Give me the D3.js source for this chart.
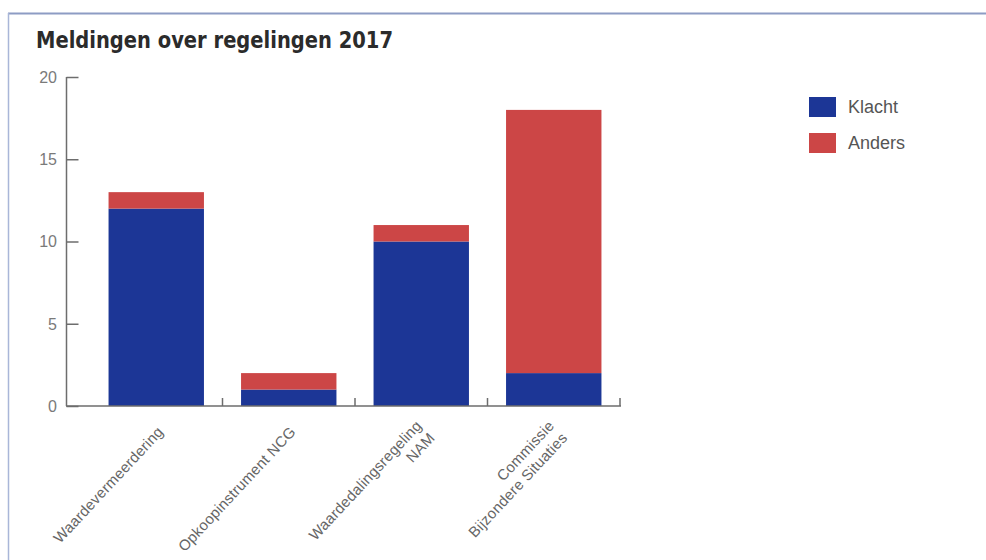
<!DOCTYPE html>
<html>
<head>
<meta charset="utf-8">
<script src="https://cdn.jsdelivr.net/npm/d3@7"></script>
<style>
  body { margin: 0; background: #fff; }
  svg { display: block; }
</style>
</head>
<body>
<svg id="chart" width="986" height="560"></svg>
<script>
// data
const categories = [
  ['Waardevermeerdering'],
  ['Opkoopinstrument NCG'],
  ['Waardedalingsregeling', 'NAM'],
  ['Commissie', 'Bijzondere Situaties']
];
const klacht = [12, 1, 10, 2];
const anders = [1, 1, 1, 16];
const seriesNames = ['Klacht', 'Anders'];
const yTicks = [0, 5, 10, 15, 20];

const colors = {Klacht: '#1c3696', Anders: '#cc4646'};

const svg = d3.select('#chart');

// frame lines around the panel
svg.append('line')
    .attr('x1', 8).attr('x2', 986).attr('y1', 13.5).attr('y2', 13.5)
    .attr('stroke', '#8d9cc4').attr('stroke-width', 2);
svg.append('line')
    .attr('x1', 8.5).attr('x2', 8.5).attr('y1', 13).attr('y2', 560)
    .attr('stroke', '#a9b6d8').attr('stroke-width', 1.5);

// title
svg.append('text')
    .attr('x', 36).attr('y', 48)
    .style('font-family', '"DejaVu Sans Condensed", "DejaVu Sans"')
    .style('font-stretch', 'condensed')
    .style('font-weight', 'bold')
    .style('font-size', '23px')
    .attr('fill', '#2b2b2b')
    .attr('textLength', 357)
    .attr('lengthAdjust', 'spacingAndGlyphs')
    .text('Meldingen over regelingen 2017');

const rows = categories.map((c, i) => ({key: c.join(' '), lines: c, Klacht: klacht[i], Anders: anders[i]}));

const x = d3.scaleBand()
    .domain(rows.map(d => d.key))
    .range([90, 620])
    .paddingInner(0.28)
    .paddingOuter(0.14);

const y = d3.scaleLinear()
    .domain([0, 20])
    .range([406, 77]);

const stack = d3.stack().keys(seriesNames)(rows);

svg.append('g')
    .selectAll('g')
    .data(stack)
    .join('g')
    .attr('fill', d => colors[d.key])
    .selectAll('rect')
    .data(d => d)
    .join('rect')
    .attr('x', d => x(d.data.key))
    .attr('width', x.bandwidth())
    .attr('y', d => y(d[1]))
    .attr('height', d => y(d[0]) - y(d[1]));

// y axis: ticks pointing inward
const yAxis = svg.append('g')
    .attr('transform', 'translate(66.5,0)')
    .call(d3.axisRight(y).tickValues(yTicks).tickSize(12).tickFormat(''));
yAxis.select('.domain').remove();
yAxis.selectAll('line').attr('stroke', '#6d6d6d').attr('stroke-width', 1.5);
svg.append('line')
    .attr('x1', 66.5).attr('x2', 66.5).attr('y1', y(20)).attr('y2', y(0))
    .attr('stroke', '#6d6d6d').attr('stroke-width', 1.5);

svg.append('g')
    .selectAll('text')
    .data(yTicks)
    .join('text')
    .attr('x', 57)
    .attr('y', d => y(d))
    .attr('dy', '0.36em')
    .attr('text-anchor', 'end')
    .style('font-family', '"Liberation Sans", Arial, sans-serif')
    .style('font-size', '16px')
    .attr('fill', '#7a7a7a')
    .text(d => d);

// x axis line and boundary ticks
svg.append('line')
    .attr('x1', 66).attr('x2', 621).attr('y1', y(0)).attr('y2', y(0))
    .attr('stroke', '#6d6d6d').attr('stroke-width', 1.5);
const bounds = rows.slice(1).map(d => x(d.key) - x.step() * x.paddingInner() / 2)
    .concat([x.range()[1]]);
svg.append('g')
    .selectAll('line')
    .data(bounds)
    .join('line')
    .attr('x1', d => d).attr('x2', d => d)
    .attr('y1', y(0)).attr('y2', y(0) - 8)
    .attr('stroke', '#6d6d6d').attr('stroke-width', 1.5);

// rotated category labels
const lab = svg.append('g')
    .selectAll('text')
    .data(rows)
    .join('text')
    .attr('transform', d => `translate(${x(d.key) + x.bandwidth() / 2 + 4},${y(0) + 23}) rotate(-47)`)
    .attr('text-anchor', 'end')
    .style('font-family', '"Liberation Sans", Arial, sans-serif')
    .style('font-size', '15px')
    .style('letter-spacing', '0.2px')
    .attr('fill', '#666');
lab.selectAll('tspan')
    .data(d => d.lines.map((t, i) => ({t, i, n: d.lines.length})))
    .join('tspan')
    .attr('x', 0)
    .attr('y', d => d.i * 18 - (d.n - 1) * 9)
    .attr('dy', '0.35em')
    .text(d => d.t);

// legend
const legend = svg.append('g')
    .selectAll('g')
    .data(seriesNames)
    .join('g')
    .attr('transform', (d, i) => `translate(809,${97 + i * 36})`);
legend.append('rect')
    .attr('width', 27).attr('height', 20)
    .attr('fill', d => colors[d]);
legend.append('text')
    .attr('x', 39).attr('y', 10)
    .attr('dy', '0.36em')
    .style('font-family', '"Liberation Sans", Arial, sans-serif')
    .style('font-size', '18px')
    .attr('fill', '#555')
    .text(d => d);
</script>
</body>
</html>
